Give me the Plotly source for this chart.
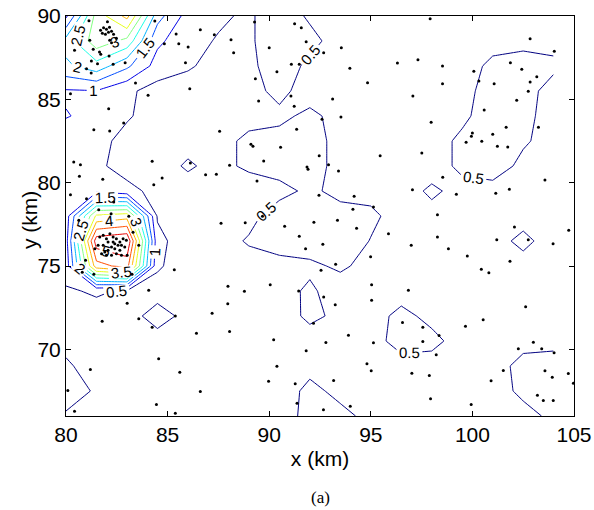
import plotly.graph_objects as go

# Regular analysis grid (km)
x_grid = [80, 81.5, 83, 84.5, 86, 87.5, 89, 90.5, 92, 93.5, 95, 96.5, 98, 99.5, 101, 102.5, 104]
y_grid = [66, 67.5, 69, 70.5, 72, 73.5, 75, 76.5, 78, 79.5, 81, 82.5, 84, 85.5, 87, 88.5, 90]

# Gridded field, one row per y_grid value (south to north)
z_rows = [
    [0.45, 0.30, 0.28, 0.32, 0.30, 0.25, 0.30, 0.20, 0.70, 0.60, 0.40, 0.30, 0.28, 0.30, 0.30, 0.35, 0.60],
    [0.70, 0.45, 0.30, 0.30, 0.32, 0.28, 0.30, 0.30, 0.60, 0.40, 0.30, 0.32, 0.30, 0.28, 0.30, 0.60, 0.70],
    [0.55, 0.35, 0.30, 0.30, 0.28, 0.30, 0.32, 0.30, 0.39, 0.30, 0.30, 0.35, 0.35, 0.30, 0.30, 0.65, 0.65],
    [0.40, 0.30, 0.30, 0.35, 0.30, 0.28, 0.30, 0.30, 0.20, 0.30, 0.35, 0.65, 0.60, 0.35, 0.30, 0.35, 0.40],
    [0.40, 0.35, 0.35, 0.65, 0.39, 0.30, 0.30, 0.15, 0.65, 0.35, 0.35, 0.60, 0.40, 0.30, 0.30, 0.30, 0.30],
    [0.45, 0.55, 0.45, 0.35, 0.30, 0.30, 0.30, 0.28, 0.60, 0.20, 0.30, 0.35, 0.30, 0.30, 0.30, 0.30, 0.30],
    [0.70, 4.30, 4.70, 0.55, 0.30, 0.30, 0.30, 0.35, 0.38, 0.60, 0.30, 0.30, 0.30, 0.30, 0.30, 0.35, 0.30],
    [0.80, 5.30, 5.50, 0.65, 0.20, 0.30, 0.55, 0.70, 0.83, 0.80, 0.48, 0.30, 0.30, 0.30, 0.35, 0.60, 0.32],
    [0.75, 3.60, 3.80, 0.45, 0.30, 0.30, 0.35, 0.75, 0.80, 0.70, 0.60, 0.30, 0.35, 0.30, 0.30, 0.35, 0.30],
    [0.80, 0.85, 0.65, 0.35, 0.30, 0.30, 0.20, 0.35, 0.60, 0.35, 0.35, 0.30, 0.58, 0.35, 0.35, 0.30, 0.30],
    [0.75, 0.60, 0.30, 0.30, 0.56, 0.35, 0.60, 0.70, 0.75, 0.30, 0.30, 0.30, 0.30, 0.60, 0.70, 0.40, 0.30],
    [0.80, 0.65, 0.35, 0.30, 0.35, 0.35, 0.60, 0.65, 0.75, 0.30, 0.30, 0.30, 0.30, 0.60, 0.80, 0.55, 0.35],
    [1.02, 0.90, 0.55, 0.30, 0.30, 0.30, 0.35, 0.40, 0.60, 0.35, 0.30, 0.30, 0.30, 0.40, 0.75, 0.70, 0.20],
    [0.95, 0.98, 0.60, 0.30, 0.30, 0.30, 0.35, 0.62, 0.30, 0.30, 0.30, 0.30, 0.30, 0.35, 0.70, 0.70, 0.30],
    [1.90, 2.30, 1.60, 0.80, 0.55, 0.35, 0.35, 0.85, 0.35, 0.30, 0.30, 0.30, 0.30, 0.30, 0.60, 0.65, 0.60],
    [2.20, 3.30, 2.85, 1.10, 0.70, 0.45, 0.40, 0.90, 0.70, 0.20, 0.30, 0.30, 0.30, 0.30, 0.35, 0.40, 0.35],
    [0.90, 3.20, 4.15, 1.70, 0.80, 0.60, 0.40, 0.90, 0.40, 0.30, 0.30, 0.30, 0.30, 0.30, 0.30, 0.30, 0.30],
]

# Station locations (km)
station_x = [
    81.13, 82.04, 81.70, 81.85, 81.99, 82.14, 82.09, 82.24, 81.79, 81.94, 82.34, 82.48, 81.17, 82.15, 82.24,
    81.34, 81.65, 81.71, 82.12, 81.25, 81.55, 82.32, 82.91, 81.01, 81.24, 80.42, 84.37, 85.42, 84.84, 85.55,
    86.01, 85.88, 86.09, 83.42, 84.04, 80.22, 82.10,
    82.84, 81.37, 82.15, 80.38, 80.71, 80.66, 81.81, 84.24, 84.73, 84.32, 86.12, 86.87, 80.22, 81.01,
    82.35, 81.61, 82.22, 80.63, 83.09, 83.30, 83.58, 83.01, 80.96, 80.80, 81.37, 83.25, 84.07, 83.01, 85.33,
    81.66, 81.83, 81.99, 82.16, 82.32, 82.48, 82.65, 82.81, 82.97, 82.40, 82.56, 82.73, 82.24, 82.40, 82.07,
    81.91, 81.75, 81.99, 82.24, 82.48, 82.65, 82.89, 81.58, 81.42, 81.83, 82.07, 82.32, 82.73,
    81.78, 83.58, 84.24, 85.38, 86.42, 84.56, 85.60, 86.61, 84.45, 85.38, 80.09, 80.42, 81.20,
    91.37, 92.67, 93.99, 99.94, 103.49,
    86.61, 87.30, 88.12, 88.25, 89.28, 90.00, 91.25, 91.58, 91.82, 92.68, 93.55, 91.09, 91.48, 90.38, 89.32,
    93.97, 94.84, 96.31, 89.48, 91.07, 91.23, 93.12, 93.53, 92.60, 91.35, 87.56, 89.10, 89.20, 90.56, 89.73,
    88.05, 87.40, 89.40, 92.46, 92.92, 91.86, 91.91, 93.41, 95.46, 92.45, 94.18,
    95.13, 94.12, 87.63, 88.82, 89.67, 90.76, 92.20, 93.36, 94.30, 95.87, 91.48, 92.64, 91.79, 93.27, 92.55,
    94.99, 87.97, 88.78, 90.05, 87.96, 87.19, 95.04, 95.04, 92.68, 93.25, 92.18, 88.05, 90.22, 92.79, 93.90,
    95.13, 91.82, 90.38, 94.81, 95.02, 89.97, 91.28, 93.17, 91.45,
    97.92, 102.84, 104.03, 97.32, 98.53, 101.87, 102.43, 100.07, 103.17, 100.32, 98.53, 101.07, 102.84, 102.75,
    97.07, 102.18, 100.58, 97.97, 101.66, 103.25, 100.00, 99.95, 99.69, 100.46, 101.00, 101.23, 101.74, 97.51,
    98.54, 103.57, 97.05, 99.21, 101.15, 101.82,
    98.28, 98.28, 96.99, 98.82, 99.75, 101.20, 102.07, 102.75, 101.85, 103.97, 104.74, 100.44, 100.81, 96.85,
    102.62, 100.53, 99.66, 96.56, 97.56, 98.36, 97.56, 98.22, 97.02, 97.88, 97.94, 100.92, 101.52, 102.26,
    103.00, 103.41, 104.02, 103.57, 103.93, 104.72, 104.97, 103.20, 103.98,
]
station_y = [
    89.71, 89.66, 89.14, 89.29, 89.20, 89.32, 89.02, 89.08, 88.96, 88.90, 88.90, 88.66, 88.54, 88.54, 88.40,
    88.00, 87.84, 87.70, 87.60, 87.30, 87.14, 87.10, 87.20, 86.84, 86.58, 87.94, 89.70, 88.92, 88.34, 88.34,
    88.14, 87.20, 85.64, 85.98, 85.24, 85.34, 84.44,
    83.58, 83.18, 83.10, 81.24, 81.08, 80.38, 80.20, 81.28, 80.28, 79.88, 81.18, 80.48, 79.28, 79.04,
    78.84, 78.38, 78.14, 77.74, 77.98, 77.03, 76.24, 75.64, 75.34, 74.63, 74.50, 74.50, 73.54, 72.77, 74.78,
    76.74, 76.84, 76.64, 76.94, 76.74, 76.64, 76.44, 76.64, 76.54, 76.34, 76.24, 76.24, 76.14, 76.04, 75.94,
    75.84, 75.74, 75.64, 75.64, 75.74, 75.94, 76.14, 76.24, 76.04, 76.24, 76.44, 76.44, 75.64,
    71.69, 71.84, 71.33, 72.00, 70.97, 69.44, 68.63, 67.47, 66.69, 66.17, 67.53, 66.29, 68.79,
    66.77, 66.38, 66.59, 66.69, 66.93,
    89.18, 88.88, 88.58, 87.80, 89.64, 88.10, 89.54, 89.30, 88.46, 87.80, 88.10, 87.10, 87.10, 86.66, 86.24,
    86.86, 86.00, 87.18, 84.90, 85.20, 84.58, 85.02, 83.94, 83.80, 83.20, 83.08, 82.30, 82.18, 82.12, 81.30,
    81.04, 80.50, 80.10, 81.62, 81.08, 80.94, 80.80, 80.70, 81.62, 79.24, 79.18,
    78.54, 78.40, 77.57, 77.60, 77.98, 77.38, 77.62, 77.74, 77.26, 76.94, 76.78, 76.30, 76.04, 75.10, 74.74,
    75.56, 73.79, 73.49, 73.88, 72.74, 72.16, 73.88, 72.94, 73.14, 72.68, 71.57, 71.07, 70.58, 70.41, 70.85,
    70.40, 69.92, 68.99, 69.13, 68.72, 68.09, 67.94, 68.13, 73.50,
    89.84, 88.64, 87.88, 87.38, 87.00, 87.20, 86.80, 86.68, 86.36, 86.10, 85.94, 85.94, 86.04, 85.48,
    85.20, 84.94, 84.36, 83.62, 83.32, 83.32, 82.98, 82.78, 82.42, 82.48, 82.90, 82.18, 82.14, 81.78,
    80.32, 80.16, 79.58, 79.30, 79.36, 79.60,
    78.08, 76.74, 76.24, 76.04, 75.60, 76.58, 77.34, 76.58, 75.28, 76.34, 77.14, 74.80, 74.60, 73.54,
    72.56, 71.78, 71.39, 71.61, 71.33, 70.83, 70.47, 69.68, 68.57, 68.43, 67.03, 68.12, 68.73, 70.04,
    70.43, 70.04, 69.80, 68.72, 68.33, 68.55, 67.97, 67.25, 66.93,
]

x_ticks = [80, 85, 90, 95, 100, 105]
y_ticks = [70, 75, 80, 85, 90]

# MATLAB-style jet colour map
jet = [
    [0.0, "rgb(0,0,128)"],
    [0.125, "rgb(0,0,255)"],
    [0.375, "rgb(0,255,255)"],
    [0.625, "rgb(255,255,0)"],
    [0.875, "rgb(255,0,0)"],
    [1.0, "rgb(128,0,0)"],
]

fig = go.Figure()
fig.add_trace(go.Contour(
    x=x_grid, y=y_grid, z=z_rows,
    colorscale=jet, zmin=0.1, zmax=5.5, showscale=False,
    contours=dict(start=0.5, end=5.5, size=0.5, coloring="lines",
                  showlabels=True,
                  labelfont=dict(family="Liberation Sans", size=15, color="black")),
    line=dict(width=1, smoothing=0),
    hoverinfo="skip",
))
fig.add_trace(go.Scatter(
    x=station_x, y=station_y, mode="markers",
    marker=dict(size=3, color="black", line=dict(width=0)),
    hoverinfo="skip",
))

axis_common = dict(
    ticks="inside", ticklen=5, tickwidth=1, tickcolor="black",
    showline=True, linecolor="black", linewidth=1, mirror="allticks",
    showgrid=False, zeroline=False, automargin=False,
    tickfont=dict(family="Liberation Sans", size=21, color="black"),
)
fig.update_xaxes(range=[80, 105], tickvals=x_ticks, **axis_common,
                 title=dict(text="x (km)", font=dict(family="Liberation Sans", size=21, color="black"),
                            standoff=6))
fig.update_yaxes(range=[66, 90], tickvals=y_ticks, **axis_common)

fig.add_annotation(text="y (km)", xref="paper", yref="paper", x=-0.0728, y=0.49,
                   xanchor="center", yanchor="middle", textangle=-90, showarrow=False,
                   font=dict(family="Liberation Sans", size=21, color="black"))
fig.add_annotation(text="(a)", xref="paper", yref="paper", x=0.5, y=-0.2025,
                   xanchor="center", yanchor="middle", showarrow=False,
                   font=dict(family="Liberation Serif", size=17, color="black"))

fig.update_layout(
    width=594, height=510,
    margin=dict(l=66, r=20, t=16, b=94),
    plot_bgcolor="white", paper_bgcolor="white",
    showlegend=False,
    font=dict(family="Liberation Sans", color="black"),
)

fig.write_html("out.html")
